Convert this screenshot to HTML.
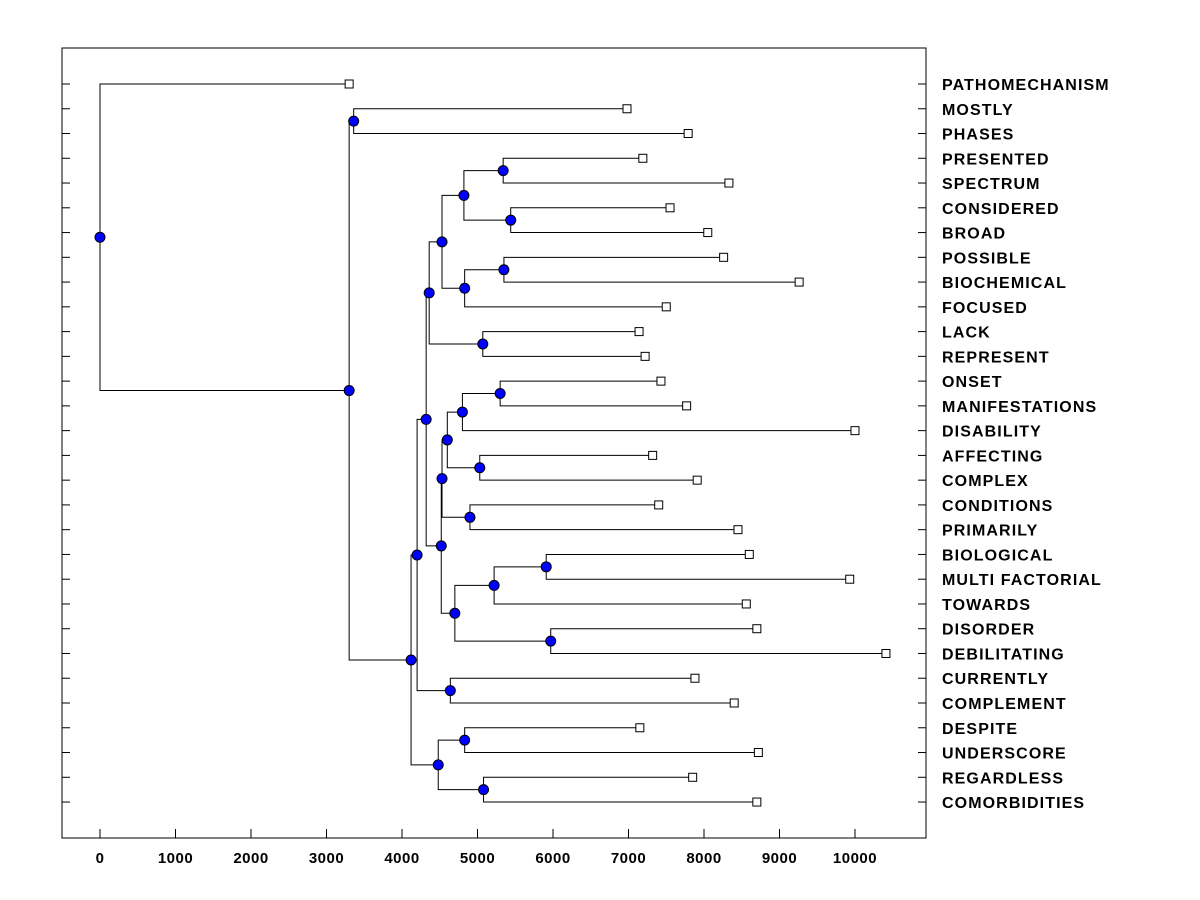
<!DOCTYPE html>
<html><head><meta charset="utf-8"><style>body{margin:0;background:#fff}svg{display:block}text{font-family:"Liberation Sans",Arial,sans-serif}</style></head>
<body>
<svg id="chart" width="1200" height="900" xmlns="http://www.w3.org/2000/svg"></svg>
<script>
const leafNames = ["PATHOMECHANISM","MOSTLY","PHASES","PRESENTED","SPECTRUM","CONSIDERED","BROAD","POSSIBLE","BIOCHEMICAL","FOCUSED","LACK","REPRESENT","ONSET","MANIFESTATIONS","DISABILITY","AFFECTING","COMPLEX","CONDITIONS","PRIMARILY","BIOLOGICAL","MULTI FACTORIAL","TOWARDS","DISORDER","DEBILITATING","CURRENTLY","COMPLEMENT","DESPITE","UNDERSCORE","REGARDLESS","COMORBIDITIES"];
const leafValues = [3300,6980,7790,7190,8330,7550,8050,8260,9260,7500,7140,7220,7430,7770,10000,7320,7910,7400,8450,8600,9930,8560,8700,10410,7880,8400,7150,8720,7850,8700];
// merges: [childA, childB, height]; leaves are "L<i>", nodes "N<i>" (index into this list)
const merges = [
 ["L1","L2",3360],["L3","L4",5340],["L5","L6",5440],["L7","L8",5350],["L10","L11",5070],
 ["L12","L13",5300],["L15","L16",5030],["L17","L18",4900],["L19","L20",5910],["L22","L23",5970],
 ["L24","L25",4640],["L26","L27",4830],["L28","L29",5080],
 ["N1","N2",4820],["N3","L9",4830],["N13","N14",4530],["N15","N4",4360],
 ["N5","L14",4800],["N17","N6",4600],["N18","N7",4530],["N8","L21",5220],["N20","N9",4700],
 ["N19","N21",4520],["N16","N22",4320],["N23","N10",4200],["N11","N12",4480],["N24","N25",4120],
 ["N0","N26",3300],["L0","N27",0]
];
const xTicks = [0,1000,2000,3000,4000,5000,6000,7000,8000,9000,10000];

const svg = document.getElementById('chart');
const NS = "http://www.w3.org/2000/svg";
const L=62,R=926,T=48,B=838;
const xs = v => 100 + v*0.0755;
const ys = i => 84 + i*24.76;
function mk(tag, attrs){const e=document.createElementNS(NS,tag);for(const k in attrs)e.setAttribute(k,attrs[k]);svg.appendChild(e);return e;}

const frame = mk('rect',{x:L,y:T,width:R-L,height:B-T,fill:'none',stroke:'#000','stroke-width':1});



xTicks.forEach(t=>{
  const x=xs(t);
  const tk=mk('line',{x1:x,x2:x,y1:B,y2:B-9,stroke:'#000'});
  
  
  const tx=mk('text',{x:x,y:863,'text-anchor':'middle','font-size':15,'font-weight':'bold','letter-spacing':'0.5'});
  tx.textContent=t;
  
  
});

const pos = {};
leafNames.forEach((n,i)=>{pos["L"+i]={x:xs(leafValues[i]),y:ys(i)};});
merges.forEach((m,i)=>{
  const a=pos[m[0]], b=pos[m[1]];
  pos["N"+i]={x:xs(m[2]),y:(a.y+b.y)/2};
});
merges.forEach((m,i)=>{
  const p=pos["N"+i], a=pos[m[0]], b=pos[m[1]];
  const pl=mk('polyline',{points:`${a.x},${a.y} ${p.x},${a.y} ${p.x},${b.y} ${b.x},${b.y}`,fill:'none',stroke:'#000','stroke-width':1});
  
  
});
leafNames.forEach((n,i)=>{
  const y=ys(i), x=xs(leafValues[i]);
  const t1=mk('line',{x1:L,x2:L+8,y1:y,y2:y,stroke:'#000'});
  
  
  const t2=mk('line',{x1:R-8,x2:R,y1:y,y2:y,stroke:'#000'});
  
  
  const sq=mk('rect',{x:x-4,y:y-4,width:8,height:8,fill:'#fff',stroke:'#000'});
  
  
  const tx=mk('text',{x:942,y:y+6,'font-size':16,'font-weight':'bold','letter-spacing':'1.1'});
  tx.textContent=n;
  
  
});
merges.forEach((m,i)=>{
  const p=pos["N"+i];
  const c=mk('circle',{cx:p.x,cy:p.y,r:5,fill:'#0000ff',stroke:'#000','stroke-width':1});
  
  
});
</script>
</body></html>
